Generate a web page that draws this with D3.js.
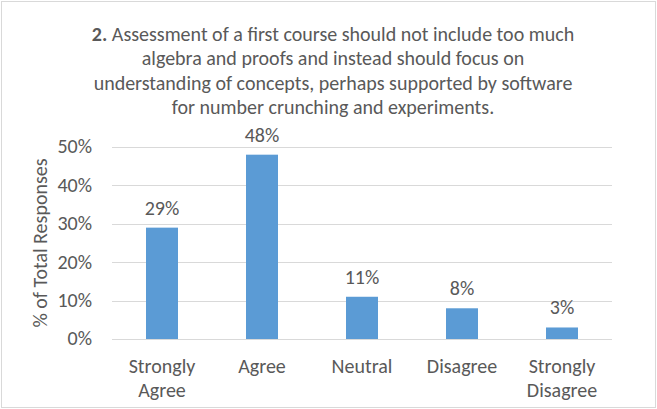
<!DOCTYPE html>
<html>
<head>
<meta charset="utf-8">
<script src="https://cdn.jsdelivr.net/npm/d3@7"></script>
<style>
  body { margin: 0; background: #fff; }
  text { font-family: Carlito, "Liberation Sans Narrow", "Liberation Sans", sans-serif; fill: #595959; }
</style>
</head>
<body>
<div id="chart"></div>
<script>
const categories = [["Strongly", "Agree"], ["Agree"], ["Neutral"], ["Disagree"], ["Strongly", "Disagree"]];
const values = [29, 48, 11, 8, 3];
const yTicks = [0, 10, 20, 30, 40, 50];
const titleLines = [
  "Assessment of a first course should not include too much",
  "algebra and proofs and instead should focus on",
  "understanding of concepts, perhaps supported by software",
  "for number crunching and experiments."
];

const width = 657;
const height = 409;
const margin = {top: 147, bottom: 70, left: 112, right: 45};

const data = categories.map((c, i) => ({label: c, key: c.join(" "), value: values[i]}));

const svg = d3.select("#chart")
  .append("svg")
  .attr("width", width)
  .attr("height", height);

// chart border
svg.append("rect")
  .attr("x", 1.5).attr("y", 1.5)
  .attr("width", width - 3).attr("height", height - 3)
  .attr("fill", "#fff")
  .attr("stroke", "#d9d9d9");

const xScale = d3.scaleBand()
  .domain(data.map(d => d.key))
  .range([margin.left, width - margin.right])
  .paddingInner(0.68)
  .paddingOuter(0.34);

const yScale = d3.scaleLinear()
  .domain([0, 50])
  .range([height - margin.bottom, margin.top]);

// gridlines
svg.selectAll(".grid")
  .data(yTicks)
  .enter()
  .append("line")
  .attr("x1", margin.left)
  .attr("x2", width - margin.right)
  .attr("y1", d => Math.round(yScale(d)) + 0.5)
  .attr("y2", d => Math.round(yScale(d)) + 0.5)
  .attr("stroke", "#d9d9d9");

// y axis labels
svg.selectAll(".ytick")
  .data(yTicks)
  .enter()
  .append("text")
  .attr("x", margin.left - 20)
  .attr("y", d => yScale(d))
  .attr("dy", "0.32em")
  .attr("text-anchor", "end")
  .style("font-size", "20px")
  .text(d => d + "%");

// bars
svg.selectAll(".bar")
  .data(data)
  .enter()
  .append("rect")
  .attr("x", d => xScale(d.key))
  .attr("y", d => yScale(d.value))
  .attr("width", xScale.bandwidth())
  .attr("height", d => yScale(0) - yScale(d.value))
  .attr("fill", "#5b9bd5");

// data labels
svg.selectAll(".val")
  .data(data)
  .enter()
  .append("text")
  .attr("x", d => xScale(d.key) + xScale.bandwidth() / 2)
  .attr("y", d => yScale(d.value) - 13)
  .attr("text-anchor", "middle")
  .style("font-size", "20px")
  .text(d => d.value + "%");

// category labels
const cat = svg.selectAll(".cat")
  .data(data)
  .enter()
  .append("text")
  .attr("x", d => xScale(d.key) + xScale.bandwidth() / 2)
  .attr("y", height - margin.bottom + 34)
  .attr("text-anchor", "middle")
  .style("font-size", "20px");
cat.selectAll("tspan")
  .data(d => d.label.map(t => ({t, x: xScale(d.key) + xScale.bandwidth() / 2})))
  .enter()
  .append("tspan")
  .attr("x", d => d.x)
  .attr("dy", (d, i) => i === 0 ? 0 : 24)
  .text(d => d.t);

// y axis title
svg.append("text")
  .attr("transform", `translate(47, ${(yScale(0) + yScale(50)) / 2}) rotate(-90)`)
  .attr("text-anchor", "middle")
  .style("font-size", "20px")
  .text("% of Total Responses");

// title
const title = svg.append("text")
  .attr("text-anchor", "middle")
  .style("font-size", "20px");
titleLines.forEach((line, i) => {
  const ts = title.append("tspan")
    .attr("x", 333)
    .attr("y", 41 + i * 24.4);
  if (i === 0) {
    ts.append("tspan").style("font-weight", "bold").text("2. ");
    ts.append("tspan").text(line);
  } else {
    ts.text(line);
  }
});
</script>
</body>
</html>
